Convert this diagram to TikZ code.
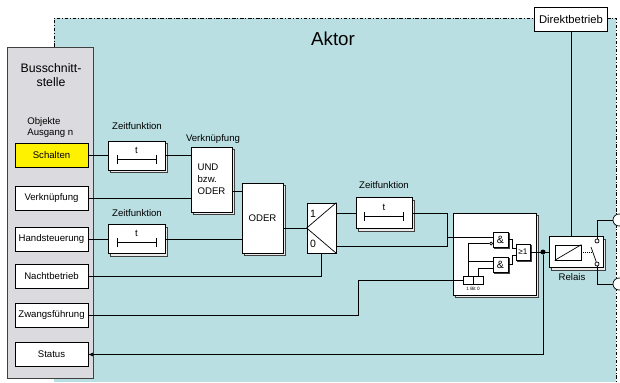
\documentclass[tikz,border=0pt]{standalone}
\usepackage{fontspec}
\setmainfont{Liberation Sans}
\usetikzlibrary{shadows,arrows.meta,calc}

\definecolor{aktorbg}{RGB}{186,223,226}
\definecolor{busgray}{RGB}{219,219,223}

\newcommand{\pxu}{0.03cm}
\newcommand{\smallfont}{\fontsize{8.2}{9.4}\selectfont}

\tikzset{
  obj/.style={draw, fill=white, inner sep=0pt, minimum width=73*\pxu,
    minimum height=24*\pxu, font=\smallfont},
  func/.style={draw, fill=white, inner sep=0pt,
    copy shadow={shadow xshift=2.3pt, shadow yshift=-2.3pt, fill=black!8, draw=black!75}},
  gate/.style={draw, fill=white, inner sep=0pt, minimum width=15*\pxu,
    minimum height=15*\pxu, font=\fontsize{9}{9}\selectfont,
    copy shadow={shadow xshift=1.2pt, shadow yshift=-1.2pt, fill=black!8, draw=black!75}},
  cell/.style={draw, fill=white, inner sep=0pt, minimum width=10*\pxu,
    minimum height=8*\pxu},
  lbl/.style={font=\smallfont, inner sep=0pt},
  aktorrand/.style={dash pattern=on 3pt off 1.5pt on 0.8pt off 1.5pt},
}

% t-Symbol in einer Zeitfunktion
\newcommand{\zeitsym}[1]{%
  \node[lbl] (#1t) at ($(#1.center)+(0,-5.5)$) {t};
  \draw ($(#1.center)+(-19.5,3.5)$) -- ++(39,0)
        ($(#1.center)+(-19.5,-1)$) -- ++(0,9)
        ($(#1.center)+(19.5,-1)$) -- ++(0,9);
}

\begin{document}
\begin{tikzpicture}[x=\pxu, y=-\pxu, line width=0.6pt,
    >={Latex[length=4pt,width=3.5pt]}]

  \useasboundingbox (0,0) rectangle (620,382);

  % Aktor
  \fill[aktorbg] (54,18) rectangle (616,382);
  \draw[aktorrand] (54,47) -- (54,18) -- (534,18) (607,18) -- (616,18) -- (616,382);
  \node[font=\fontsize{16}{18}\selectfont] (aktor) at (333,39) {Aktor};

  % Busschnittstelle
  \draw[draw=black!75, fill=busgray] (7,47) rectangle (93,378);
  \node[font=\fontsize{10.5}{12}\selectfont, align=center] (bus) at (51,75) {Busschnitt-\\stelle};
  \node[lbl, align=left, anchor=west] (objn) at (27,127.5) {Objekte\\Ausgang n};

  \node[obj, fill=yellow] (sch) at (51.5,155.5) {Schalten};
  \node[obj] (verk) at (51.5,198.5) {Verknüpfung};
  \node[obj] (hand) at (51.5,239) {Handsteuerung};
  \node[obj] (nacht) at (51.5,276.5) {Nachtbetrieb};
  \node[obj] (zwang) at (51.5,315) {Zwangsführung};
  \node[obj] (stat) at (51.5,354.5) {Status};

  % Zeitfunktionen, Verknuepfung, ODER
  \node[func, minimum width=57*\pxu, minimum height=29*\pxu] (zf1) at (136.5,155.5) {};
  \node[func, minimum width=57*\pxu, minimum height=29*\pxu] (zf2) at (136.5,239) {};
  \node[func, minimum width=56*\pxu, minimum height=31*\pxu] (zf3) at (384,213) {};
  \zeitsym{zf1}
  \zeitsym{zf2}
  \zeitsym{zf3}
  \node[lbl] (zf1l) at (137,126) {Zeitfunktion};
  \node[lbl] (zf2l) at (137,213) {Zeitfunktion};
  \node[lbl] (zf3l) at (384,185) {Zeitfunktion};

  \node[func, minimum width=41*\pxu, minimum height=65*\pxu, align=left,
    font=\fontsize{8.2}{10.2}\selectfont] (und) at (211.5,179.5) {UND\\bzw.\\ODER};
  \node[lbl] (undl) at (213,139) {Verknüpfung};
  \node[func, minimum width=41*\pxu, minimum height=70*\pxu, font=\smallfont] (oder) at (262.5,218) {ODER};

  % Umschalter
  \node[draw, fill=white, inner sep=0pt, minimum width=29*\pxu, minimum height=50*\pxu] (sw) at (321.5,228) {};
  \draw (sw.north east) -- (sw.west) -- (sw.south east);
  \node[font=\fontsize{9}{10}\selectfont] (sw1) at (313,214) {1};
  \node[font=\fontsize{9}{10}\selectfont] (sw0) at (313,244) {0};

  % Logik
  \node[func, minimum width=83*\pxu, minimum height=82*\pxu] (logik) at (494.5,254) {};
  \node[gate] (and1) at (500.5,239.5) {\&};
  \node[gate] (and2) at (500.5,264.5) {\&};
  \node[gate, minimum width=14*\pxu, minimum height=16*\pxu,
    font=\fontsize{7}{7}\selectfont] (or1) at (523,252) {≥1};
  \node[cell] (bitA) at (468,280) {};
  \node[cell] (bitB) at (478,280) {};
  \node[font=\fontsize{4}{5}\selectfont, inner sep=0pt] (bitl) at (473,289) {1 Bit 0};
  \node[circle, draw, fill=white, inner sep=0pt, minimum size=3*\pxu] (neg) at ($(and1.west)+(-1.5,4)$) {};

  % Relais
  \node[func, minimum width=54*\pxu, minimum height=31*\pxu] (rel) at (576,252) {};
  \node[draw, fill=white, inner sep=0pt, minimum width=26*\pxu, minimum height=15*\pxu] (spule) at (568,252.5) {};
  \draw (spule.south west) -- (spule.north east);
  \node[circle, draw, fill=white, inner sep=0pt, minimum size=4*\pxu] (kt) at (597,241) {};
  \node[circle, draw, fill=white, inner sep=0pt, minimum size=4*\pxu] (kb) at (597,264) {};
  \draw[densely dotted] (spule.east) -- (591,252.5);
  \draw (kb) -- (591,247);
  \node[lbl] (rell) at (572,277) {Relais};

  \node[obj, font=\fontsize{9.6}{11}\selectfont] (direkt) at (571,19) {Direktbetrieb};
  \node[circle, draw, fill=white, inner sep=0pt, minimum size=12*\pxu] (tt) at (619,220) {};
  \node[circle, draw, fill=white, inner sep=0pt, minimum size=12*\pxu] (tb) at (619,284) {};

  % Verbindungen
  \draw (sch) -- (zf1);
  \draw (zf1.east) -- (zf1.east -| und.west);
  \draw (verk.east) -- (verk.east -| und.west);
  \draw (hand) -- (zf2);
  \draw (zf2.east) -- (zf2.east -| oder.west);
  \coordinate (u1) at ($(und.east)+(0,11.5)$);
  \draw (u1) -- (u1 -| oder.west);
  \draw (sw.west -| oder.east) -- (sw.west);
  \draw (zf3.west -| sw.east) -- (zf3.west);

  \coordinate (j0) at (447,237);
  \coordinate (s0) at ($(sw.east)+(0,18)$);
  \draw (zf3.east) -| (j0);
  \draw (s0) -| (j0) -- (j0 -| and1.west);
  \draw (nacht.east) -| (sw.south);
  \coordinate (zk) at (358,280);
  \draw (zwang.east) -| (zk) -- (bitA.west);

  \draw (bitA.north) |- (neg.west);
  \coordinate (t2) at ($(and2.west)+(0,-3.5)$);
  \coordinate (t3) at ($(and2.west)+(0,3.5)$);
  \draw (t2 -| bitA.north) -- (t2);
  \draw (bitB.north) |- (t3);
  \coordinate (o1) at ($(or1.west)+(0,-3.5)$);
  \coordinate (o2) at ($(or1.west)+(0,3.5)$);
  \draw (and1.east) -- ++(4,0) |- (o1);
  \draw (and2.east) -- ++(4,0) |- (o2);

  \node[circle, fill, inner sep=0pt, minimum size=5*\pxu] (dot) at (543,252) {};
  \draw (or1.east) -- (rel.west);
  \draw[->] (dot) |- (stat.east);
  \draw (direkt.south) -- (direkt.south |- rel.north);
  \draw (kt) |- (tt.west);
  \draw (kb) |- (tb.west);

\end{tikzpicture}
\end{document}
